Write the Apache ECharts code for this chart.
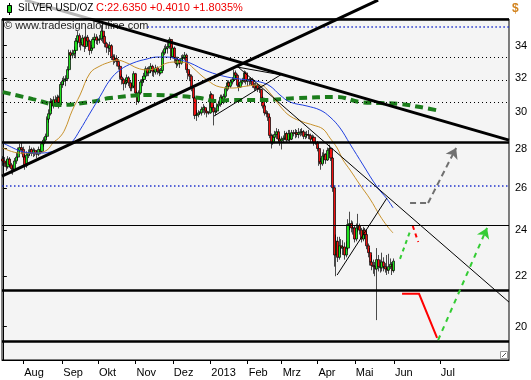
<!DOCTYPE html>
<html><head><meta charset="utf-8">
<script src="https://cdn.jsdelivr.net/npm/echarts@6/dist/echarts.min.js"></script>
<style>html,body{margin:0;padding:0;background:#fff}#c{width:531px;height:380px}</style>
</head><body><div id="c"></div>
<script>
// x = trading-day index (0 = 16 Jul 2012), prices in USD
const monthIdx = [12,35,56,78,100,122,144,164,185,207,230,257];
const monthNames = ['Aug','Sep','Okt','Nov','Dez','2013','Feb','Mrz','Apr','Mai','Jun','Jul'];
const yTicks = [20,22,24,26,28,30,32,34];
const xRange = [-0.5, 297.7];
const yRange = [18.78, 35.76];

// [open, close, low, high]
const ohlc = [
[27.45,27.35,27.10,27.60],[27.35,27.25,27.05,27.55],[27.25,27.05,26.85,27.40],[27.05,27.45,26.95,27.60],[27.45,27.15,27.00,27.55],
[27.15,26.95,26.70,27.25],[26.95,26.90,26.65,27.10],[26.90,27.35,26.85,27.50],[27.35,27.55,27.20,27.80],[27.55,27.90,27.40,28.05],
[27.90,28.05,27.75,28.25],[28.05,27.95,27.70,28.30],[27.95,27.55,27.40,28.10],[27.55,27.10,26.90,27.70],[27.10,27.65,27.00,27.85],
[27.65,27.75,27.50,27.95],[27.75,27.95,27.60,28.15],[27.95,27.75,27.60,28.05],[27.75,27.90,27.55,28.05],[27.90,27.75,27.60,28.00],
[27.75,27.70,27.50,27.90],[27.70,27.95,27.60,28.10],[27.95,27.85,27.70,28.10],[27.85,28.25,27.80,28.35],[28.25,28.45,28.10,28.60],
[28.45,28.65,28.30,28.80],[28.65,29.60,28.55,29.75],[29.60,29.90,29.40,30.15],[29.90,30.60,29.80,30.80],[30.60,30.35,30.05,30.75],
[30.35,30.70,30.20,30.90],[30.70,30.55,30.30,30.95],[30.55,30.85,30.40,31.00],[30.85,30.40,30.20,30.95],[30.40,31.60,30.30,31.75],
[31.60,31.80,31.40,32.00],[31.80,31.90,31.55,32.10],[31.90,31.95,31.50,32.15],[31.95,32.50,31.80,32.70],[32.50,33.55,32.40,33.75],
[33.55,33.40,33.10,33.70],[33.40,33.50,33.20,33.75],[33.50,33.70,33.30,33.95],[33.70,34.30,33.20,34.50],[34.30,34.65,34.10,34.95],
[34.65,34.20,33.90,34.80],[34.20,34.05,33.70,34.40],[34.05,34.50,33.95,34.70],[34.50,33.95,33.60,34.60],[33.95,34.55,33.80,35.10],
[34.55,34.30,34.00,34.70],[34.30,33.70,33.40,34.40],[33.70,33.85,33.50,34.05],[33.85,34.40,33.75,34.55],[34.40,34.55,34.20,34.80],
[34.55,34.35,34.10,34.75],[34.35,34.40,34.05,34.60],[34.40,34.45,34.15,34.70],[34.45,34.95,34.30,35.35],[34.95,34.60,34.20,35.10],
[34.60,34.15,33.90,34.70],[34.15,33.90,33.55,34.25],[33.90,33.85,33.40,34.10],[33.85,34.00,33.60,34.25],[34.00,33.30,33.10,34.10],
[33.30,33.10,32.80,33.45],[33.10,33.20,32.90,33.45],[33.20,33.00,32.70,33.40],[33.00,32.70,32.50,33.15],[32.70,32.05,31.90,32.80],
[32.05,31.90,31.60,32.20],[31.90,31.65,31.25,32.00],[31.65,31.75,31.40,31.95],[31.75,32.00,31.60,32.20],[32.00,31.70,31.50,32.10],
[31.70,31.40,31.20,31.80],[31.40,31.50,31.20,31.70],[31.50,32.25,31.40,32.40],[32.25,31.10,30.90,32.30],[31.10,30.60,30.40,31.20],
[30.60,31.10,30.50,31.25],[31.10,31.75,31.00,31.90],[31.75,31.90,31.50,32.10],[31.90,32.10,31.70,32.30],[32.10,32.55,32.00,32.70],
[32.55,32.30,32.10,32.65],[32.30,32.50,32.10,32.70],[32.50,32.70,32.30,32.90],[32.70,32.40,32.10,32.80],[32.40,32.35,32.05,32.55],
[32.35,32.60,32.20,32.80],[32.60,32.40,32.20,32.70],[32.40,32.30,32.10,32.55],[32.30,32.45,32.20,32.60],[32.45,33.55,32.40,33.70],
[33.55,33.80,33.40,34.00],[33.80,33.85,33.50,34.10],[33.85,33.95,33.50,34.20],[33.95,34.40,33.80,34.55],[34.40,33.30,33.10,34.45],
[33.30,33.85,33.20,34.00],[33.85,33.20,32.90,33.95],[33.20,32.85,32.60,33.30],[32.85,33.10,32.70,33.30],[33.10,32.90,32.60,33.20],
[32.90,33.20,32.80,33.40],[33.20,33.25,33.00,33.45],[33.25,33.40,33.10,33.60],[33.40,32.50,32.30,33.50],[32.50,32.20,31.90,32.60],
[32.20,32.10,31.80,32.40],[32.10,31.40,31.20,32.20],[31.40,30.80,30.60,31.50],[30.80,29.80,29.60,30.90],[29.80,29.85,29.50,30.10],
[29.85,29.95,29.70,30.10],[29.95,29.95,29.85,30.05],[29.95,30.15,29.80,30.30],[30.15,30.25,29.95,30.45],[30.25,30.05,29.85,30.35],
[30.05,29.95,29.70,30.20],[29.95,29.95,29.85,30.05],[29.95,31.00,29.90,31.20],[31.00,30.25,30.10,31.10],[30.25,30.00,29.25,30.40],
[30.00,30.05,29.80,30.25],[30.05,30.35,29.95,30.50],[30.35,30.45,30.20,30.65],[30.45,30.85,30.30,31.00],[30.85,30.55,30.40,31.00],
[30.55,30.90,30.45,31.05],[30.90,31.35,30.80,31.50],[31.35,31.70,31.20,31.85],[31.70,31.50,31.30,31.85],[31.50,31.75,31.40,31.90],
[31.75,31.90,31.60,32.05],[31.90,32.30,31.80,32.50],[32.30,32.15,31.90,32.45],[32.15,31.55,31.40,32.25],[31.55,31.45,31.20,31.70],
[31.45,31.75,31.40,31.90],[31.75,31.85,31.60,32.00],[31.85,32.30,31.70,32.45],[32.30,31.80,31.60,32.40],[31.80,31.90,31.50,32.15],
[31.90,31.80,31.55,32.00],[31.80,31.90,31.60,32.05],[31.90,31.55,31.40,32.00],[31.55,31.40,31.20,31.70],[31.40,31.55,31.25,31.70],
[31.55,31.35,31.15,31.65],[31.35,31.30,31.10,31.50],[31.30,30.80,30.60,31.35],[30.80,30.35,30.20,30.90],[30.35,29.95,29.80,30.45],
[29.95,29.90,29.70,30.10],[29.90,29.70,29.50,30.05],[29.70,28.70,28.55,29.80],[28.70,28.30,28.00,28.80],[28.30,28.60,28.20,28.75],
[28.60,28.75,28.40,28.95],[28.75,28.90,28.50,29.10],[28.90,28.50,28.35,29.05],[28.50,28.40,28.15,28.70],[28.40,28.50,27.95,28.65],
[28.50,28.55,28.30,28.70],[28.55,28.80,28.45,28.95],[28.80,28.45,28.30,28.90],[28.45,28.80,28.40,29.00],[28.80,28.50,28.30,29.00],
[28.50,28.85,28.45,29.00],[28.85,28.80,28.65,29.00],[28.80,28.85,28.55,29.05],[28.85,28.75,28.60,29.00],[28.75,28.85,28.55,29.10],
[28.85,28.90,28.65,29.05],[28.90,28.90,28.70,29.10],[28.90,28.65,28.50,29.00],[28.65,28.75,28.50,28.90],[28.75,28.75,28.55,28.95],
[28.75,28.70,28.50,29.00],[28.70,28.50,28.30,28.80],[28.50,28.60,28.35,28.75],[28.60,28.30,28.15,28.70],[28.30,28.30,28.20,28.40],
[28.30,28.00,27.85,28.40],[28.00,27.30,27.10,28.10],[27.30,27.20,26.90,27.50],[27.20,27.60,27.10,27.80],[27.60,27.70,27.25,27.95],
[27.70,27.40,27.20,27.75],[27.40,27.90,27.35,28.05],[27.90,28.00,27.70,28.20],[28.00,27.50,27.35,28.05],[27.50,26.00,25.80,27.55],
[26.00,22.90,22.40,26.10],[22.90,23.50,22.00,23.80],[23.50,22.80,22.60,23.70],[22.80,23.30,22.70,23.70],[23.30,23.20,22.95,23.60],
[23.20,23.25,22.90,23.55],[23.25,22.90,22.70,23.45],[22.90,23.20,22.80,23.50],[23.20,24.25,23.10,24.50],[24.25,24.30,24.00,24.85],
[24.30,24.10,23.90,24.45],[24.10,24.10,23.80,24.40],[24.10,23.60,23.45,24.20],[23.60,24.10,23.50,24.30],[24.10,24.20,23.90,24.75],
[24.20,24.00,23.80,24.30],[24.00,23.60,23.45,24.10],[23.60,24.00,23.50,24.15],[24.00,23.80,23.60,24.10],[23.80,23.30,23.15,23.95],
[23.30,23.00,22.80,23.40],[23.00,22.60,22.45,23.20],[22.60,22.45,22.25,22.90],[22.45,22.40,22.10,22.70],[22.40,22.30,22.00,22.60],
[22.30,22.70,20.25,23.20],[22.70,22.40,22.20,22.90],[22.40,22.35,22.15,22.70],[22.35,22.60,22.20,23.00],[22.60,22.40,22.20,22.80],
[22.40,22.30,22.15,22.55],[22.30,22.25,22.05,22.90],[22.25,22.40,22.10,22.95],[22.40,22.50,22.30,22.75],[22.50,22.234,22.05,22.60],
[22.234,22.635,22.15,22.75]
];

// indicator lines: [index, price]
const maOrange = [[0,28.03],[10.1,27.76],[20.1,27.76],[26,27.92],[29.5,28.30],[33.6,28.62],[36.6,29.05],[40.7,30.06],[45.4,30.98],[51.3,32.29],[57.1,32.72],[63,32.97],[67.1,33.09],[73,32.91],[78.9,32.60],[84.8,32.48],[90.7,32.60],[96.6,32.91],[102.4,32.97],[108.3,32.91],[111.9,32.60],[120.1,31.87],[127.7,31.45],[135.4,31.39],[143.6,31.51],[151.3,31.57],[157.1,31.10],[163,30.34],[168.9,29.77],[176.6,29.44],[182.4,29.27],[188.3,29.05],[192.4,28.56],[196.6,28.03],[200.1,27.40],[204.2,26.89],[210.1,26.14],[216,25.45],[221.9,24.65],[226,24.19],[229.5,23.87]];
const maBlue = [[0,28.30],[6,28.03],[11.9,27.82],[21.9,27.76],[30.7,27.87],[36.6,28.08],[40.7,28.35],[45.4,29.00],[51.3,29.94],[57.1,30.88],[63,31.87],[68.9,32.48],[76.6,32.91],[84.8,33.16],[90.7,33.28],[96.6,33.28],[102.4,33.16],[110.1,32.91],[120.1,32.41],[131.9,32.05],[143.6,31.87],[151.3,31.75],[157.1,31.51],[163,30.98],[168.9,30.57],[178.9,30.34],[186.6,30.11],[192.4,29.72],[198.3,29.11],[204.2,28.24],[211.9,27.14],[220.1,26.04],[226,25.45],[229.5,25.03]];
const maGreen = [[0,31.15],[17.7,30.74],[33.6,30.40],[51.3,30.57],[63,30.80],[86.6,30.98],[102.4,30.92],[116,30.80],[124.8,30.63],[135.4,30.69],[153,30.69],[173,30.80],[196.6,30.86],[210.1,30.57],[221.9,30.51],[233.6,30.46],[245.4,30.28],[257.1,30.06]];

// horizontal levels
const thickLevels = [35.76, 28.31, 21.41, 19.47];
const thinLevels = [24.24];
const dottedBlack = [33.24, 31.87, 30.53];
const dottedBlue = [[85, 35.22], [-0.5, 26.10]]; // [start index, price]

// drawn trend lines: [[index, price], [index, price]]
const thickTrend = [[[13.0,37.06],[297.7,28.45]], [[-0.5,26.58],[220.7,37.06]]];
const thinTrend = [[[137.7,32.72],[297.7,20.95]], [[124.2,29.77],[164.2,32.23]], [[137.7,32.66],[163.6,32.18]], [[196.6,22.05],[225.9,25.50]]];
const redPath = [[234.8,21.28],[244.8,21.28],[255.4,19.58]];
const greenShort = [[233.6,22.73],[240.0,24.05]];
const redShort = [[241.1,24.19],[244.3,23.47]];
const grayArrow = [[239.5,25.26],[250.1,25.26],[266.6,28.03]];
const greenArrow = [[256.0,19.50],[284.8,24.10]];

const L = Math.log;
const lnPts = a => a.map(p => [p[0], L(p[1])]);
const seg = (a, b) => ({coords: [[a[0], L(a[1])], [b[0], L(b[1])]]});
const hline = (p, x0) => ({coords: [[x0 == null ? xRange[0] : x0, L(p)], [xRange[1], L(p)]]});
const FONT = 'Liberation Sans';

const last = ohlc[ohlc.length - 1][1], prev = ohlc[ohlc.length - 2][1];
const chg = last - prev, pct = chg / prev * 100;
const sign = v => (v >= 0 ? '+' : '') + v.toFixed(4);

const linesBase = {type: 'lines', coordinateSystem: 'cartesian2d', silent: true, symbol: ['none','none']};

const chart = echarts.init(document.getElementById('c'), null, {renderer: 'canvas', width: 531, height: 380});
chart.setOption({
  animation: false,
  backgroundColor: '#fff',
  grid: {left: 2, top: 19, width: 507, height: 341, show: true, backgroundColor: '#f4f4f4',
         borderColor: '#000', borderWidth: 1, containLabel: false, outerBoundsMode: 'none'},
  xAxis: {type: 'value', min: xRange[0], max: xRange[1],
    axisLine: {show: true, lineStyle: {color: '#000', width: 1}}, splitLine: {show: false},
    axisTick: {show: true, customValues: monthIdx, length: 4, lineStyle: {color: '#000'}},
    axisLabel: {customValues: monthIdx, formatter: v => monthNames[monthIdx.indexOf(Math.round(v))],
      align: 'left', margin: 7, fontSize: 11, fontFamily: FONT, color: '#000', padding: [0,0,0,1]}},
  yAxis: {type: 'value', position: 'right', min: L(yRange[0]), max: L(yRange[1]), scale: true,
    axisLine: {show: true, lineStyle: {color: '#000', width: 1}}, splitLine: {show: false},
    axisTick: {show: true, customValues: yTicks.map(L), length: 4, lineStyle: {color: '#000'}},
    axisLabel: {customValues: yTicks.map(L), formatter: v => String(Math.round(Math.exp(v))),
      margin: 6, fontSize: 11, fontFamily: FONT, color: '#000'}},
  graphic: [
    {type: 'text', left: 4, top: 20, z: 1, style: {text: '\u00a9 www.tradesignalonline.com', font: '11px "Liberation Sans"', fill: '#222'}},
    {type: 'rect', left: 0, top: 0, z: 100, shape: {width: 250, height: 18}, style: {fill: 'rgba(255,255,255,0.72)'}},
    {type: 'line', z: 101, shape: {x1: 9.5, y1: 3, x2: 9.5, y2: 15}, style: {stroke: '#000', lineWidth: 1}},
    {type: 'rect', z: 102, shape: {x: 7.5, y: 5.5, width: 4, height: 7}, style: {fill: '#16d316', stroke: '#000', lineWidth: 1}},
    {type: 'text', left: 18, top: 3, z: 102, style: {text: 'SILVER USD/OZ', font: '10px "Liberation Sans"', fill: '#000'}},
    {type: 'text', left: 96, top: 2, z: 102, style: {text: 'C:' + last.toFixed(4) + ' ' + sign(chg) + ' ' + (pct >= 0 ? '+' : '') + pct.toFixed(4) + '%', font: '11px "Liberation Sans"', fill: '#f00000'}},
    {type: 'text', left: 512, top: 3, z: 102, style: {text: '$', font: 'bold 12px "Liberation Sans"', fill: '#d2831e'}},
    {type: 'rect', z: 102, shape: {x: 500.5, y: 351.5, width: 7, height: 7}, style: {fill: '#fff', stroke: '#999', lineWidth: 1}},
    {type: 'line', z: 103, shape: {x1: 502, y1: 357, x2: 506, y2: 353}, style: {stroke: '#555', lineWidth: 1}}
  ],
  series: [
    {type: 'candlestick', silent: true, barWidth: 2.6, z: 2,
     data: ohlc.map((r, i) => [i, L(r[0]), L(r[1]), L(r[2]), L(r[3])]),
     encode: {x: 0, y: [1, 2, 3, 4]},
     itemStyle: {color: '#1ee01e', color0: '#f01010', borderColor: '#000', borderColor0: '#000', borderColorDoji: '#000', borderWidth: 0.7}},
    {type: 'line', silent: true, z: 3, data: lnPts(maGreen), smooth: 0.4, showSymbol: false,
     lineStyle: {color: '#1b7d1b', width: 4, type: [8, 5]}},
    {type: 'line', silent: true, z: 4, data: lnPts(maOrange), smooth: 0.4, showSymbol: false,
     lineStyle: {color: '#c8922c', width: 1}},
    {type: 'line', silent: true, z: 4, data: lnPts(maBlue), smooth: 0.4, showSymbol: false,
     lineStyle: {color: '#2040e0', width: 1}},
    Object.assign({}, linesBase, {z: 5, data: dottedBlack.map(p => hline(p)), lineStyle: {color: '#000', width: 1, type: [1, 3], opacity: 1}}),
    Object.assign({}, linesBase, {z: 5, data: dottedBlue.map(d => hline(d[1], d[0])), lineStyle: {color: '#2233cc', width: 1.5, type: [1.5, 2.5], opacity: 1}}),
    Object.assign({}, linesBase, {z: 5, data: thinLevels.map(p => hline(p)), lineStyle: {color: '#000', width: 1, opacity: 1}}),
    Object.assign({}, linesBase, {z: 6, clip: false, data: thickLevels.map(p => hline(p)), lineStyle: {color: '#000', width: 2.5, opacity: 1}}),
    Object.assign({}, linesBase, {z: 6, clip: false, data: thickTrend.map(s => seg(s[0], s[1])), lineStyle: {color: '#000', width: 3, opacity: 1}}),
    Object.assign({}, linesBase, {z: 6, data: thinTrend.map(s => seg(s[0], s[1])), lineStyle: {color: '#000', width: 1, opacity: 1}}),
    Object.assign({}, linesBase, {z: 7, polyline: true, data: [{coords: lnPts(redPath)}], lineStyle: {color: '#ff0000', width: 2, opacity: 1}}),
    Object.assign({}, linesBase, {z: 7, data: [seg(greenShort[0], greenShort[1])], lineStyle: {color: '#33cc33', width: 2, type: [4, 4], opacity: 1}}),
    Object.assign({}, linesBase, {z: 7, data: [seg(redShort[0], redShort[1])], lineStyle: {color: '#ff0000', width: 2, type: [4, 4], opacity: 1}}),
    Object.assign({}, linesBase, {z: 7, data: [seg(grayArrow[0], grayArrow[1])], lineStyle: {color: '#707070', width: 2, type: [6, 4], opacity: 1}}),
    Object.assign({}, linesBase, {z: 7, symbol: ['none', 'arrow'], symbolSize: 10, data: [seg(grayArrow[1], grayArrow[2])], lineStyle: {color: '#707070', width: 2, type: [6, 4], opacity: 1}}),
    Object.assign({}, linesBase, {z: 7, symbol: ['none', 'arrow'], symbolSize: 10, data: [seg(greenArrow[0], greenArrow[1])], lineStyle: {color: '#33cc33', width: 2, type: [5, 5], opacity: 1}})
  ]
});
</script>
</body></html>
